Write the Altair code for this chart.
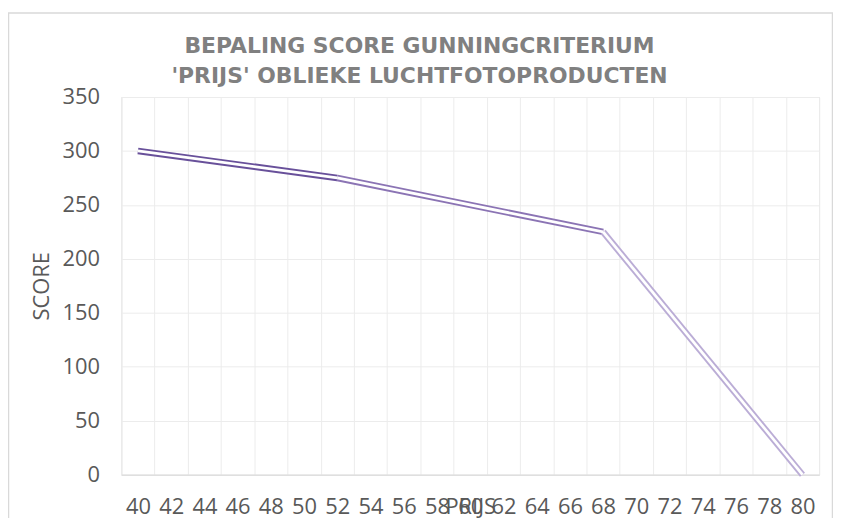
import altair as alt
import pandas as pd

# Data
prijs_labels = list(range(40, 81, 2))          # x-axis categories
score_ticks = [0, 50, 100, 150, 200, 250, 300, 350]
knik_prijs = [40, 52, 68, 80]                  # break points of the score curve
knik_score = [300, 275, 225, 0]
segment_names = ["deel 1", "deel 2", "deel 3"]
segment_colors = ["#68509A", "#8B74B4", "#BBADD6"]

title_lines = ["BEPALING SCORE GUNNINGCRITERIUM", "'PRIJS' OBLIEKE LUCHTFOTOPRODUCTEN"]

rows = []
for i, name in enumerate(segment_names):
    for j in (i, i + 1):
        rows.append({"prijs": knik_prijs[j], "score": knik_score[j], "deel": name})
df = pd.DataFrame(rows)

W, H = 702, 380
FONT = "Open Sans"

x_enc = alt.X(
    "prijs:O",
    scale=alt.Scale(type="band", domain=prijs_labels, paddingInner=0, paddingOuter=0),
    axis=alt.Axis(
        title="PRIJS",
        labelAngle=0,
        labelFont=FONT,
        labelFontSize=22,
        labelColor="#595959",
        labelPadding=22,
        ticks=False,
        tickSize=0,
        tickBand="extent",
        grid=True,
        gridColor="#ececec",
        gridWidth=1,
        domain=True,
        domainColor="#d9d9d9",
        domainWidth=1,
        titleFont=FONT,
        titleFontSize=22,
        titleFontWeight="normal",
        titleColor="#595959",
        titleBaseline="top",
        titleX=W / 2,
        titleY=22,
    ),
)
y_enc = alt.Y(
    "score:Q",
    scale=alt.Scale(domain=[0, 350], nice=False, zero=True),
    axis=alt.Axis(
        title="SCORE",
        values=score_ticks,
        labelFont=FONT,
        labelFontSize=22,
        labelColor="#595959",
        labelPadding=22,
        ticks=False,
        tickSize=0,
        domain=False,
        grid=True,
        gridColor="#ececec",
        gridWidth=1,
        titleFont=FONT,
        titleFontSize=22,
        titleFontWeight="normal",
        titleColor="#595959",
        titleAngle=270,
        titleBaseline="middle",
        titleAlign="center",
        titleX=-80,
        titleY=H / 2,
    ),
)

color_enc = alt.Color(
    "deel:N",
    scale=alt.Scale(domain=segment_names, range=segment_colors),
    legend=None,
)

one = pd.DataFrame({"k": [0]})

border = alt.Chart(one).mark_rect(
    filled=False, stroke="#d9d9d9", strokeWidth=1.5
).encode(
    x=alt.value(-113.5), x2=alt.value(715.5), y=alt.value(-84.5), y2=alt.value(440)
)

title_text = alt.Chart(one).mark_text(
    text=title_lines,
    font="DejaVu Sans",
    fontSize=22,
    fontWeight="bold",
    color="#808080",
    lineHeight=30,
    align="center",
    baseline="alphabetic",
).encode(x=alt.value(300), y=alt.value(-44))

outer = alt.Chart(df).mark_line(strokeWidth=6.6, strokeCap="butt", strokeJoin="miter").encode(
    x=x_enc, y=y_enc, color=color_enc, detail="deel:N"
)
inner = alt.Chart(df).mark_line(strokeWidth=2.8, strokeCap="butt", strokeJoin="miter", color="white").encode(
    x=x_enc, y=y_enc, detail="deel:N"
)

chart = (
    alt.layer(border, title_text, outer, inner)
    .properties(
        width=W,
        height=H,
        autosize=alt.AutoSizeParams(type="none"),
        padding={"left": 114, "top": 88, "right": 14, "bottom": 42},
    )
    .configure_view(stroke=None)
    .configure(background="white")
)

chart.save("out.html", embed_options={"renderer": "svg", "actions": False})
